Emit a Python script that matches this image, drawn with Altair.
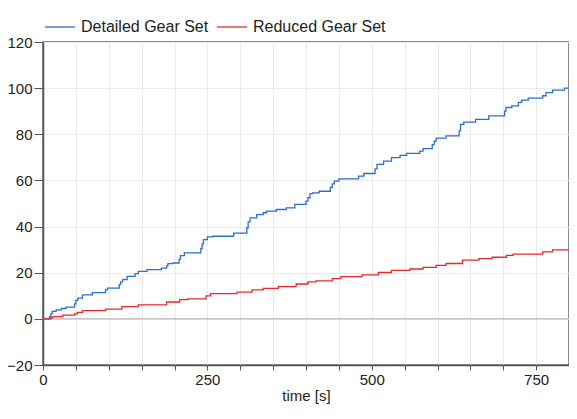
import altair as alt
import pandas as pd

series_names = ["Detailed Gear Set", "Reduced Gear Set"]
series_colors = ["#2a6fd0", "#e8282c"]

detailed_t = [0, 10, 12, 14, 20, 28, 35, 48, 50, 53, 60, 75, 95, 98, 116, 118, 121, 128, 140, 145,
              158, 180, 188, 190, 198, 207, 209, 215, 240, 242, 244, 250, 258, 290, 310, 312, 315,
              325, 335, 340, 355, 370, 383, 400, 403, 406, 410, 420, 437, 440, 443, 450, 480, 488,
              505, 508, 518, 530, 543, 553, 573, 578, 592, 595, 598, 613, 633, 635, 640, 658, 678,
              702, 704, 713, 723, 728, 738, 760, 765, 775, 793, 800]
detailed_v = [0, 1.0, 2.2, 3.2, 3.9, 4.5, 5.1, 6.5, 8.0, 9.0, 10.4, 11.4, 12.6, 13.3, 14.8, 16.0,
              17.0, 18.4, 19.6, 20.6, 21.3, 22.0, 23.0, 23.9, 24.2, 25.8, 27.4, 28.6, 30.5, 32.5,
              34.3, 35.5, 35.8, 37.2, 39.5, 42.0, 43.8, 45.2, 46.0, 46.7, 47.4, 48.1, 49.6, 51.0,
              52.5, 54.3, 54.6, 55.3, 57.0, 58.5, 59.7, 60.7, 61.9, 63.0, 65.0, 67.0, 68.4, 69.9,
              70.9, 71.7, 72.7, 73.8, 75.5, 77.0, 78.3, 79.3, 81.5, 84.3, 85.3, 86.5, 88.0, 90.0,
              91.6, 92.3, 93.8, 94.8, 95.7, 96.7, 98.1, 99.1, 100.0, 100.0]

reduced_t = [0, 12, 15, 30, 48, 52, 60, 95, 120, 145, 188, 208, 220, 248, 255, 295, 318, 335,
             358, 385, 403, 415, 440, 453, 485, 510, 530, 558, 578, 598, 613, 638, 663, 683,
             705, 715, 760, 775, 800]
reduced_v = [0, 0.5, 1.0, 1.6, 2.2, 2.8, 3.6, 4.2, 5.3, 6.1, 7.3, 8.3, 8.7, 10.0, 10.9, 11.6,
             12.6, 13.2, 14.0, 15.1, 16.0, 16.5, 17.4, 18.3, 19.1, 20.1, 21.0, 21.6, 22.3, 23.2,
             24.0, 25.5, 26.1, 26.7, 27.5, 28.1, 29.0, 29.9, 29.9]

x_ticks = list(range(0, 801, 50))
y_ticks = list(range(-20, 121, 20))

df = pd.concat([
    pd.DataFrame({"time": detailed_t, "value": detailed_v, "series": series_names[0]}),
    pd.DataFrame({"time": reduced_t, "value": reduced_v, "series": series_names[1]}),
])

font = "Arial, Liberation Sans"

lines = alt.Chart(df).mark_line(interpolate="step-after", strokeWidth=1.3).encode(
    x=alt.X("time:Q",
            scale=alt.Scale(domain=[0, 800], nice=False, zero=False),
            axis=alt.Axis(values=x_ticks,
                          labelExpr="datum.value % 250 == 0 ? datum.label : ''",
                          title="time [s]", titleFontWeight="normal", titleFontSize=15,
                          titleFont=font, titleColor="#222", titlePadding=1,
                          labelFont=font, labelFontSize=15, labelColor="#222",
                          labelPadding=2, tickSize=5, tickColor="#555",
                          domainColor="#555", domainWidth=1.5,
                          gridColor="#ebebeb", gridWidth=1, labelFlush=False)),
    y=alt.Y("value:Q",
            scale=alt.Scale(domain=[-20, 120], nice=False, zero=False),
            axis=alt.Axis(values=y_ticks, title=None,
                          labelFont=font, labelFontSize=15, labelColor="#222",
                          labelPadding=2, tickSize=9, tickColor="#555",
                          domainColor="#555", domainWidth=1.5,
                          gridColor="#ebebeb", gridWidth=1)),
    color=alt.Color("series:N",
                    scale=alt.Scale(domain=series_names, range=series_colors),
                    legend=alt.Legend(title=None, orient="none", direction="horizontal",
                                      legendX=1, legendY=-31,
                                      symbolType="stroke", symbolSize=900,
                                      symbolStrokeWidth=1.3, labelFont=font,
                                      labelFontSize=16, labelColor="#222",
                                      labelOffset=5, columnPadding=5, padding=0)),
    order="time:Q",
)

zero_rule = alt.Chart(pd.DataFrame({"y": [0]})).mark_rule(color="#aaaaaa", strokeWidth=1).encode(
    y=alt.Y("y:Q")
)

chart = alt.layer(zero_rule, lines).properties(
    width=526, height=323,
    padding={"left": 35, "top": 34, "right": 0, "bottom": 42},
    autosize=alt.AutoSizeParams(type="none"),
).configure_view(stroke="#666", strokeWidth=1.5)

chart.save("out.html", embed_options={"renderer": "svg", "actions": False})
